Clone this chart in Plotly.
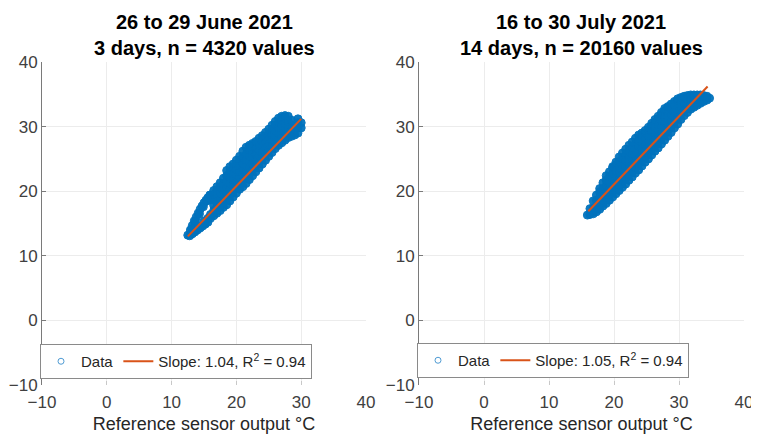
import plotly.graph_objects as go

# ---------------- data ----------------
titles_left = ["26 to 29 June 2021", "3 days, n = 4320 values"]
titles_right = ["16 to 30 July 2021", "14 days, n = 20160 values"]
x_label = "Reference sensor output °C"
tick_vals = [-10, 0, 10, 20, 30, 40]

# left panel: two thin arms near the lower tip
left_arm_x = [12.5, 12.9, 13.2, 13.5, 13.8, 14.1, 14.4, 14.7, 15.0, 15.3, 15.6, 15.9,
              13.1, 13.7, 14.3, 14.9, 15.5,
              12.8, 13.2, 13.6, 14.0, 14.4, 14.8, 15.2, 15.6,
              13.4, 14.2, 15.0, 15.6]
left_arm_y = [13.2, 14.0, 14.7, 15.4, 16.0, 16.6, 17.2, 17.7, 18.2, 18.6, 19.0, 19.4,
              14.2, 15.3, 16.5, 17.6, 18.5,
              13.1, 13.4, 13.7, 14.0, 14.3, 14.6, 14.9, 15.2,
              13.9, 14.6, 15.4, 15.8]
# left panel main body: x column -> y values
left_col_x = [16.0, 16.5, 17.0, 17.5, 18.0, 18.5, 19.0, 19.5, 20.0, 20.5, 21.0, 21.5,
              22.0, 22.5, 23.0, 23.5, 24.0, 24.5, 25.0, 25.5, 26.0, 26.5, 27.0, 27.5,
              28.0, 28.5, 29.0, 29.5, 30.0]
left_col_y = [
    [15.8, 16.4, 18.7, 19.4],
    [16.2, 17.0, 17.8, 18.7, 19.5, 20.1],
    [16.6, 17.5, 18.4, 19.3, 20.2, 20.7],
    [17.0, 17.9, 18.8, 19.7, 20.6, 21.3],
    [17.5, 18.4, 19.3, 20.2, 21.1, 22.0],
    [17.9, 18.8, 19.7, 20.6, 21.5, 22.4, 23.2],
    [18.5, 19.4, 20.3, 21.2, 22.1, 23.0, 23.8],
    [19.1, 20.0, 20.9, 21.8, 22.7, 23.6, 24.2],
    [19.7, 20.6, 21.5, 22.4, 23.3, 24.2, 24.8],
    [20.3, 21.2, 22.1, 23.0, 23.9, 24.8, 25.4],
    [20.7, 21.6, 22.5, 23.4, 24.3, 25.2, 26.2],
    [21.2, 22.1, 23.0, 23.9, 24.8, 25.7, 26.8],
    [21.8, 22.7, 23.6, 24.5, 25.4, 26.3, 27.1],
    [22.4, 23.3, 24.2, 25.1, 26.0, 26.9, 27.4],
    [23.0, 23.9, 24.8, 25.7, 26.6, 27.7],
    [23.6, 24.5, 25.4, 26.3, 27.2, 28.2],
    [24.2, 25.1, 26.0, 26.9, 27.8, 28.6],
    [24.8, 25.7, 26.6, 27.5, 28.4, 29.1],
    [25.4, 26.3, 27.2, 28.1, 29.0, 29.6],
    [26.0, 26.9, 27.8, 28.7, 29.6, 30.2],
    [26.6, 27.5, 28.4, 29.3, 30.2, 30.8],
    [27.1, 28.0, 28.9, 29.8, 30.6, 31.3],
    [27.5, 28.4, 29.3, 30.2, 31.0, 31.6],
    [27.9, 28.8, 29.6, 30.5, 31.3, 31.7],
    [28.3, 29.1, 29.9, 30.8, 31.6],
    [28.5, 29.3, 30.1, 31.0],
    [28.7, 29.5, 30.3],
    [29.0, 29.8, 30.6, 31.2],
    [29.8, 30.6],
]
left_fit_x = [12.5, 30.0]
left_fit_y = [13.0, 31.2]
left_legend = ["Data", "Slope: 1.04, R<sup>2</sup> = 0.94"]

# right panel: x column -> y values
right_col_x = [15.9, 16.3, 16.8, 17.3, 17.8, 18.3, 18.8, 19.3, 19.8, 20.3, 20.8, 21.3,
               21.8, 22.3, 22.8, 23.3, 23.8, 24.3, 24.8, 25.3, 25.8, 26.3, 26.8, 27.3,
               27.8, 28.3, 28.8, 29.3, 29.8, 30.3, 30.8, 31.3, 31.8, 32.3, 32.8, 33.3,
               33.8, 34.3, 34.7]
right_col_y = [
    [16.3],
    [16.4, 17.3],
    [16.5, 17.4, 18.5],
    [16.8, 17.7, 18.6, 19.4],
    [17.2, 18.1, 19.0, 19.9, 20.4],
    [17.7, 18.6, 19.5, 20.4, 21.3],
    [18.1, 19.0, 19.9, 20.8, 21.7, 22.4],
    [18.6, 19.5, 20.4, 21.3, 22.2, 23.0],
    [19.1, 20.0, 20.9, 21.8, 22.7, 23.6, 23.8],
    [19.6, 20.5, 21.4, 22.3, 23.2, 24.1, 24.5],
    [20.1, 21.0, 21.9, 22.8, 23.7, 24.6, 25.3],
    [20.6, 21.5, 22.4, 23.3, 24.2, 25.1, 25.9],
    [21.1, 22.0, 22.9, 23.8, 24.7, 25.6, 26.5],
    [21.7, 22.6, 23.5, 24.4, 25.3, 26.2, 27.1],
    [22.2, 23.1, 24.0, 24.9, 25.8, 26.7, 27.6],
    [22.8, 23.7, 24.6, 25.5, 26.4, 27.3, 28.2],
    [23.3, 24.2, 25.1, 26.0, 26.9, 27.8, 28.7],
    [23.9, 24.8, 25.7, 26.6, 27.5, 28.4, 29.0],
    [24.5, 25.4, 26.3, 27.2, 28.1, 29.0, 29.4],
    [25.0, 25.9, 26.8, 27.7, 28.6, 29.5, 29.9],
    [25.6, 26.5, 27.4, 28.3, 29.2, 30.1, 30.5],
    [26.2, 27.1, 28.0, 28.9, 29.8, 30.7, 31.1],
    [26.7, 27.6, 28.5, 29.4, 30.3, 31.2, 31.6],
    [27.3, 28.2, 29.1, 30.0, 30.9, 31.8, 32.2],
    [27.9, 28.8, 29.7, 30.6, 31.5, 32.4, 32.8],
    [28.5, 29.4, 30.3, 31.2, 32.1, 32.9, 33.1],
    [29.1, 30.0, 30.9, 31.8, 32.7, 33.5],
    [29.8, 30.7, 31.6, 32.5, 33.4, 33.9],
    [30.4, 31.3, 32.2, 33.1, 34.0, 34.3],
    [31.1, 32.0, 32.9, 33.8, 34.5],
    [31.7, 32.6, 33.5, 34.4, 34.7],
    [32.2, 33.5, 34.3, 34.8],
    [32.7, 33.5, 34.3, 34.9],
    [33.0, 33.8, 34.6, 34.9],
    [33.3, 34.1, 34.9],
    [33.6, 34.4, 34.9],
    [33.9, 34.6, 34.8],
    [34.1, 34.7],
    [34.4],
]
right_fit_x = [16.05, 34.4]
right_fit_y = [16.9, 36.2]
right_legend = ["Data", "Slope: 1.05, R<sup>2</sup> = 0.94"]

# ---------------- styling ----------------
BLUE = "#0072BD"
ORANGE = "#D95319"
FONT = "Liberation Sans, Arial, Helvetica, sans-serif"
OFF = 8            # page body margin of the html page
W, H = 759 - OFF, 435 - OFF


def flatten(col_x, col_y, extra_x=(), extra_y=()):
    xs, ys = list(extra_x), list(extra_y)
    for cx, cys in zip(col_x, col_y):
        for cy in cys:
            xs.append(cx)
            ys.append(cy)
    return xs, ys


lx, ly = flatten(left_col_x, left_col_y, left_arm_x, left_arm_y)
rx, ry = flatten(right_col_x, right_col_y)

fig = go.Figure()

cloud_marker = dict(symbol="circle", size=8, color=BLUE, opacity=0.95,
                    line=dict(width=1, color=BLUE))
legend_marker = dict(symbol="circle-open", size=6, color="#4f9bd3", line=dict(width=1))

for (xs, ys, fx, fy, names, xa, ya, lg) in (
        (lx, ly, left_fit_x, left_fit_y, left_legend, "x", "y", "legend"),
        (rx, ry, right_fit_x, right_fit_y, right_legend, "x2", "y2", "legend2")):
    fig.add_trace(go.Scatter(x=xs, y=ys, mode="markers", marker=cloud_marker, name=names[0],
                             xaxis=xa, yaxis=ya, showlegend=False, hoverinfo="x+y"))
    # legend entry for the data (open circle as in the original legend)
    fig.add_trace(go.Scatter(x=[None], y=[None], mode="markers", marker=legend_marker,
                             name=names[0], xaxis=xa, yaxis=ya, legend=lg))
    fig.add_trace(go.Scatter(x=fx, y=fy, mode="lines", line=dict(color=ORANGE, width=2),
                             name=names[1], xaxis=xa, yaxis=ya, legend=lg))

# pixel geometry (target, in screenshot pixels)
L0, L1 = 42, 366
R0, R1 = 419, 744
YT, YB = 62, 385


def px(v):
    return (v - OFF) / W


def py(v):
    return 1 - (v - OFF) / H


TICKFONT = dict(family=FONT, size=17, color="#404040")
xaxis_common = dict(range=[-10, 40], tickvals=tick_vals, showgrid=True, gridcolor="#ececec",
                    gridwidth=1, zeroline=False, showline=False, ticks="inside", ticklen=4,
                    tickcolor="#c8c8c8", tickfont=TICKFONT, automargin=False,
                    ticklabelstandoff=5,
                    title=dict(text=x_label, font=dict(family=FONT, size=18, color="#262626"),
                               standoff=6),
                    fixedrange=True)
yaxis_common = dict(range=[-10, 40], tickvals=tick_vals, showgrid=True, gridcolor="#ececec",
                    gridwidth=1, zeroline=False, showline=True, linecolor="#7a7a7a",
                    linewidth=1, ticks="inside", ticklen=4, tickcolor="#7a7a7a",
                    tickfont=TICKFONT, automargin=False, fixedrange=True)

LEGFONT = dict(family=FONT, size=15, color="#262626")
fig.update_layout(
    width=W, height=H,
    autosize=False,
    margin=dict(l=0, r=0, t=0, b=0, pad=0),
    paper_bgcolor="white", plot_bgcolor="white",
    font=dict(family=FONT, color="#262626"),
    xaxis=dict(domain=[px(L0), px(L1)], anchor="y", **xaxis_common),
    yaxis=dict(domain=[py(YB), py(YT)], anchor="x", **yaxis_common),
    xaxis2=dict(domain=[px(R0), px(R1)], anchor="y2", **xaxis_common),
    yaxis2=dict(domain=[py(YB), py(YT)], anchor="x2", **yaxis_common),
    legend=dict(orientation="h", x=px(40), y=py(379), xanchor="left", yanchor="bottom",
                bgcolor="white", bordercolor="#8a8a8a", borderwidth=1, font=LEGFONT,
                itemwidth=30, tracegroupgap=0),
    legend2=dict(orientation="h", x=px(417), y=py(378), xanchor="left", yanchor="bottom",
                 bgcolor="white", bordercolor="#8a8a8a", borderwidth=1, font=LEGFONT,
                 itemwidth=30, tracegroupgap=0),
    showlegend=True,
)

for cx, lines in ((204, titles_left), (581, titles_right)):
    for t, cy in zip(lines, (22, 48)):
        fig.add_annotation(text="<b>%s</b>" % t, x=px(cx), y=py(cy), xref="paper", yref="paper",
                           xanchor="center", yanchor="middle", showarrow=False,
                           font=dict(family=FONT, size=20, color="black"))

fig.write_html("out.html")
